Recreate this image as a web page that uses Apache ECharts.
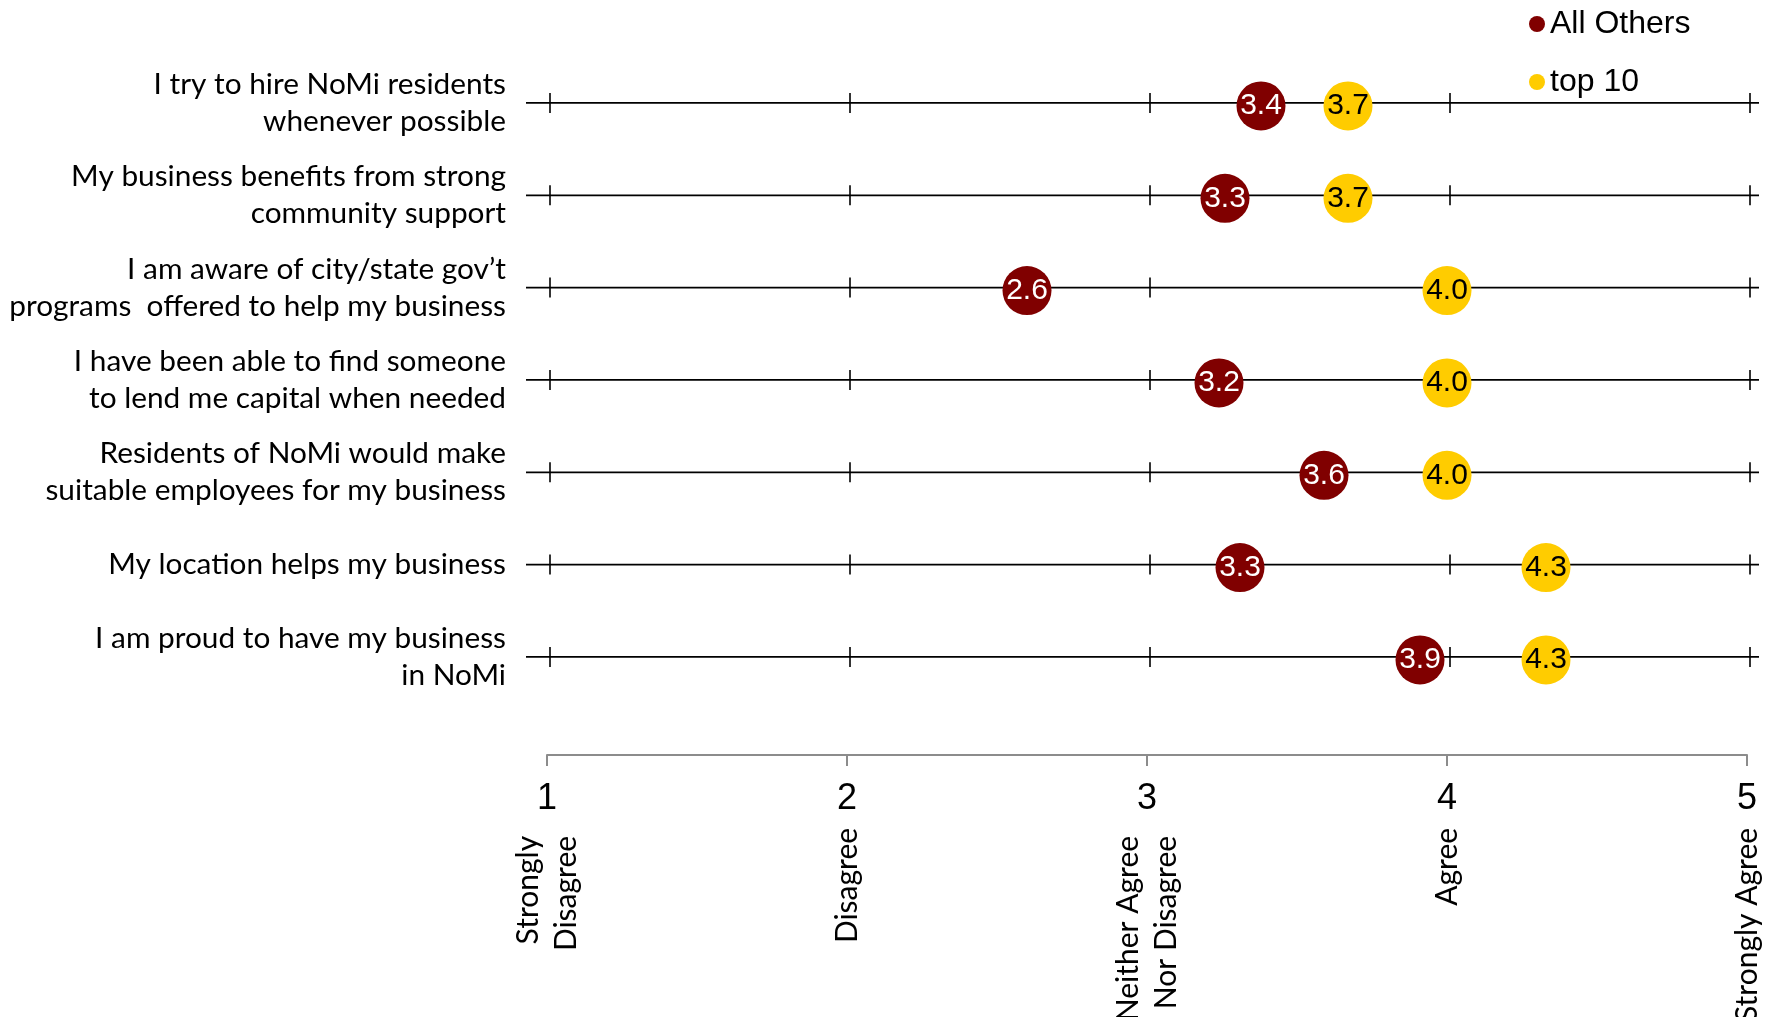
<!DOCTYPE html>
<html>
<head>
<meta charset="utf-8">
<title>NoMi business survey</title>
<script src="https://cdn.jsdelivr.net/npm/echarts@6/dist/echarts.min.js"></script>
<style>
  html, body { margin: 0; padding: 0; background: #ffffff; }
  #chart { width: 1767px; height: 1017px; }
</style>
</head>
<body>
<div id="chart"></div>
<script>
// Survey statements, top to bottom
const statements = [
  'I try to hire NoMi residents\nwhenever possible',
  'My business benefits from strong\ncommunity support',
  'I am aware of city/state gov\u2019t\nprograms  offered to help my business',
  'I have been able to find someone\nto lend me capital when needed',
  'Residents of NoMi would make\nsuitable employees for my business',
  'My location helps my business',
  'I am proud to have my business\nin NoMi'
];

// Mean agreement scores (1 = strongly disagree, 5 = strongly agree)
const allOthers = [3.38, 3.26, 2.60, 3.24, 3.59, 3.31, 3.91];
const top10     = [3.67, 3.67, 4.00, 4.00, 4.00, 4.33, 4.33];

// Likert scale
const scalePoints = [1, 2, 3, 4, 5];
const scaleNames = ['Strongly\nDisagree', 'Disagree', 'Neither Agree\nNor Disagree', 'Agree', 'Strongly Agree'];

const seriesNames = ['All Others', 'top 10'];

// Each statement's guide line reaches a little past the ends of the scale
const GUIDE_FROM = 0.93;
const GUIDE_TO = 5.04;
const GUIDE_TICK = 10;

const SANS = "'Liberation Sans', Arial, sans-serif";
const HUMANIST = "Lato, 'Open Sans', sans-serif";

const chart = echarts.init(document.getElementById('chart'), null, { renderer: 'canvas' });

function pairs(values) {
  return values.map((v, i) => [v, statements[i]]);
}

// Two-line scale names sit a little further from the axis than one-liners
function scaleLabel(v) {
  const name = scaleNames[scalePoints.indexOf(v)] || '';
  const lines = name.split('\n');
  const style = lines.length > 1 ? 'two' : 'one';
  return lines.map((l) => '{' + style + '|' + l + '}').join('\n');
}

const dotLabel = (color) => ({
  show: true,
  position: 'inside',
  formatter: (p) => p.value[0].toFixed(1),
  color: color,
  fontFamily: SANS,
  fontSize: 30,
  textBorderWidth: 0,
  textShadowBlur: 0
});

const scaleTextStyle = {
  color: '#000000',
  fontFamily: HUMANIST,
  fontSize: 30,
  lineHeight: 38
};

chart.setOption({
  backgroundColor: '#ffffff',
  animation: false,
  legend: {
    orient: 'vertical',
    left: 1529,
    top: 8,
    padding: 0,
    itemGap: 26,
    itemWidth: 16,
    itemHeight: 16,
    icon: 'circle',
    data: seriesNames,
    textStyle: { fontFamily: SANS, fontSize: 32, color: '#000000', lineHeight: 30 }
  },
  grid: {
    left: 547,
    right: 20,
    top: 56.8,
    height: 646.3,
    containLabel: false,
    outerBoundsMode: 'none'
  },
  xAxis: [
    {
      type: 'value',
      min: 1,
      max: 5,
      interval: 1,
      position: 'bottom',
      offset: 51.8,
      axisLine: { show: true, lineStyle: { color: '#8c8c8c', width: 2 } },
      axisTick: { show: true, length: 11, lineStyle: { color: '#8c8c8c', width: 2 } },
      splitLine: { show: false },
      axisLabel: {
        margin: 26,
        color: '#000000',
        fontFamily: SANS,
        fontSize: 36,
        showMinLabel: true,
        showMaxLabel: true,
        formatter: (v) => String(v)
      }
    },
    {
      type: 'value',
      min: 1,
      max: 5,
      interval: 1,
      position: 'bottom',
      offset: 51.8,
      axisLine: { show: false },
      axisTick: { show: false },
      splitLine: { show: false },
      axisLabel: Object.assign({
        rotate: 90,
        margin: 73,
        showMinLabel: true,
        showMaxLabel: true,
        formatter: scaleLabel,
        rich: {
          one: Object.assign({}, scaleTextStyle),
          two: Object.assign({ padding: [0, 8, 0, 0] }, scaleTextStyle)
        }
      }, scaleTextStyle)
    }
  ],
  yAxis: {
    type: 'category',
    inverse: true,
    data: statements,
    axisLine: { show: false },
    axisTick: { show: false },
    splitLine: { show: false },
    axisLabel: {
      margin: 41,
      align: 'right',
      color: '#000000',
      fontFamily: HUMANIST,
      fontSize: 29.8,
      lineHeight: 37
    }
  },
  series: [
    {
      // Guide line with scale ticks behind each statement's dots
      type: 'custom',
      name: 'guides',
      xAxisIndex: 0,
      z: 1,
      silent: true,
      clip: false,
      encode: { y: 0 },
      data: statements.map((s) => [s]),
      renderItem: (params, api) => {
        const row = params.dataIndex;
        const start = api.coord([GUIDE_FROM, row]);
        const end = api.coord([GUIDE_TO, row]);
        const children = [{
          type: 'line',
          shape: { x1: start[0], y1: start[1], x2: end[0], y2: end[1] },
          style: { stroke: '#000000', lineWidth: 1.8 }
        }];
        scalePoints.forEach((t) => {
          const p = api.coord([t, row]);
          children.push({
            type: 'line',
            shape: { x1: p[0] + 3, y1: p[1] - GUIDE_TICK, x2: p[0] + 3, y2: p[1] + GUIDE_TICK },
            style: { stroke: '#000000', lineWidth: 1.6 }
          });
        });
        return { type: 'group', children: children };
      }
    },
    {
      type: 'scatter',
      name: seriesNames[0],
      xAxisIndex: 0,
      z: 3,
      symbol: 'circle',
      symbolSize: 49,
      symbolOffset: [0, 3],
      itemStyle: { color: '#800000', opacity: 1 },
      emphasis: { disabled: true },
      label: dotLabel('#ffffff'),
      data: pairs(allOthers)
    },
    {
      type: 'scatter',
      name: seriesNames[1],
      xAxisIndex: 0,
      z: 3,
      symbol: 'circle',
      symbolSize: 49,
      symbolOffset: [0, 3],
      itemStyle: { color: '#ffcc00', opacity: 1 },
      emphasis: { disabled: true },
      label: dotLabel('#000000'),
      data: pairs(top10)
    }
  ]
});
</script>
</body>
</html>
